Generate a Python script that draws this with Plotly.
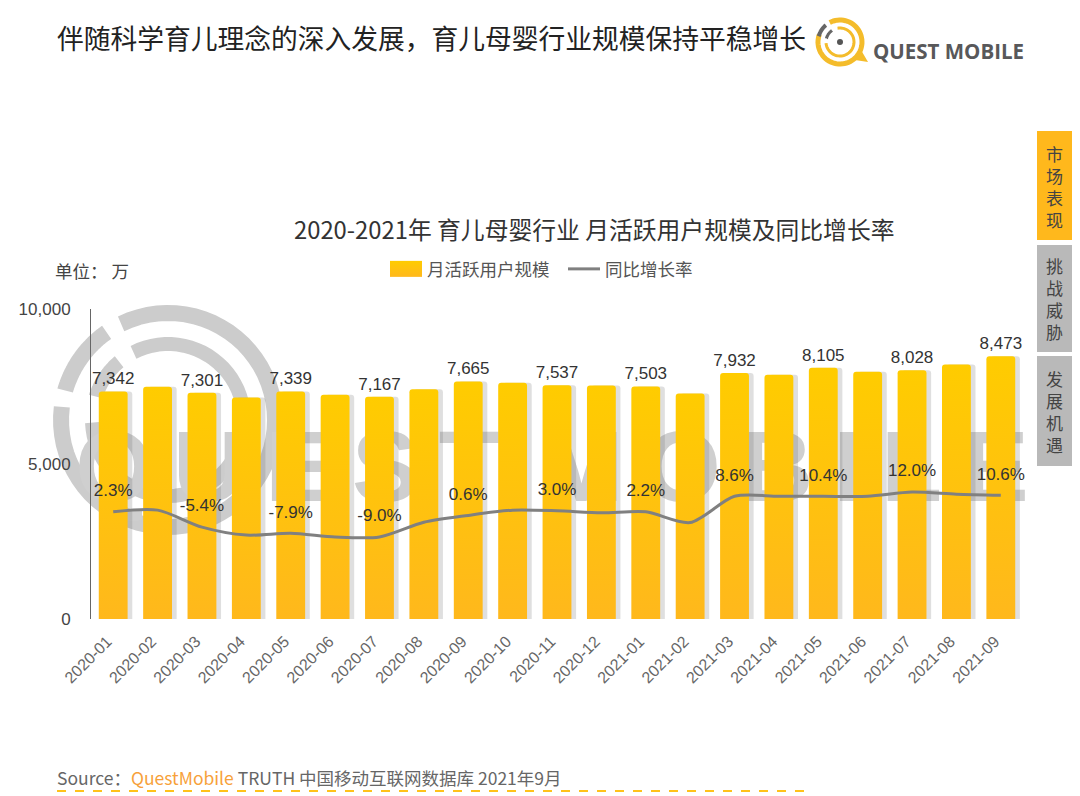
"""QuestMobile chart: monthly active users in the mother and baby sector"""
import math
import plotly.graph_objects as go

months = ['2020-01', '2020-02', '2020-03', '2020-04', '2020-05', '2020-06', '2020-07',
          '2020-08', '2020-09', '2020-10', '2020-11', '2020-12', '2021-01', '2021-02',
          '2021-03', '2021-04', '2021-05', '2021-06', '2021-07', '2021-08', '2021-09']
# months without a printed label are read from the height of the bar
mau = [7342, 7490, 7301, 7148, 7339, 7235, 7167, 7415, 7665, 7620, 7537, 7530, 7503, 7277,
       7932, 7878, 8105, 7974, 8028, 8209, 8473]
mau_labels = ['7,342', '', '7,301', '', '7,339', '', '7,167', '', '7,665', '', '7,537', '',
              '7,503', '', '7,932', '', '8,105', '', '8,028', '', '8,473']
# line height as drawn in the picture, it does not follow the printed labels exactly
growth = [2.3, 3.1, -5.0, -8.8, -7.9, -9.7, -9.7, -2.7, 0.6, 3.1, 2.8, 1.8, 2.3, -2.8,
          9.7, 9.7, 9.7, 9.7, 11.7, 10.7, 10.2]
growth_labels = ['2.3%', '', '-5.4%', '', '-7.9%', '', '-9.0%', '', '0.6%', '', '3.0%', '',
                 '2.2%', '', '8.6%', '', '10.4%', '', '12.0%', '', '10.6%']
tabs = ['市场表现', '挑战威胁', '发展机遇']

CJK = 'Noto Sans CJK SC'
LATIN = 'Liberation Sans'
LEFT, RIGHT, TOP, BOTTOM = 91, 1023, 309, 619
LABEL_LIFT = 9.5  # growth labels sit about 20px over the line, in y2 units


def px(x):
    return (x - LEFT) / (RIGHT - LEFT)


def py(y):
    return (BOTTOM - y) / (BOTTOM - TOP)


def arc(cx, cy, r, start, end, color, width):
    """A ring segment in page pixels, angles in degrees counted anticlockwise"""
    steps = 60
    pts = []
    for i in range(steps + 1):
        a = math.radians(start + (end - start) * i / steps)
        pts.append('{:.4f},{:.4f}'.format(px(cx + r * math.cos(a)), py(cy - r * math.sin(a))))
    return dict(type='path', path='M' + ' L'.join(pts), xref='paper', yref='paper',
                line=dict(color=color, width=width), layer='below')


def text(x, y, s, size, color='#333333', font=CJK, anchor='left', **kw):
    return dict(x=px(x), y=py(y), xref='paper', yref='paper', text=s, showarrow=False,
                xanchor=anchor, yanchor='middle', font=dict(family=font, size=size, color=color), **kw)


shapes = []
# watermark behind the bars
for seg in [(116, -187, 107, 16), (164, 125, 107, 16), (117, -178, 76, 14), (162, 130, 76, 14)]:
    shapes.append(arc(168, 420, seg[2], seg[0], seg[1], '#CCCCCC', seg[3]))
shapes.append(dict(type='rect', xref='paper', yref='paper', x0=px(54), x1=px(1050), y0=py(507), y1=py(407),
                   layer='below', line=dict(width=0), fillcolor='rgba(0,0,0,0)',
                   label=dict(text='\u2009'.join('QUEST') + '\u2009\u2009' + '\u2009'.join('MOBILE'),
                              textposition='middle center',
                              font=dict(family=LATIN, size=100, color='#CFCFCF', weight=700))))
# logo
shapes.append(arc(840, 42, 22, 118, -200, '#F4BC2B', 5))
shapes.append(arc(840, 42, 14, 100, -175, '#F4BC2B', 3))
shapes.append(arc(840, 42, 22, 165, 130, '#666666', 4))
shapes.append(arc(840, 42, 14, 165, 125, '#666666', 3))
shapes.append(dict(type='circle', xref='paper', yref='paper', x0=px(837), x1=px(843), y0=py(39), y1=py(45),
                   fillcolor='#555555', line=dict(width=0)))
shapes.append(dict(type='path', xref='paper', yref='paper', fillcolor='#F4BC2B', line=dict(width=0),
                   path='M{},{} L{},{} L{},{} Z'.format(px(855), py(60), px(868), py(62), px(861), py(50))))
# side tabs
for (y0, y1), color in zip([(131, 240), (245, 352), (356, 466)], ['#FFB81C', '#B9B9B9', '#B9B9B9']):
    shapes.append(dict(type='rect', xref='paper', yref='paper', x0=px(1037), x1=px(1072), y0=py(y0), y1=py(y1),
                       fillcolor=color, line=dict(width=0)))
# dashed rule under the source line
shapes.append(dict(type='line', xref='paper', yref='paper', x0=px(57), x1=px(812), y0=py(791), y1=py(791),
                   line=dict(color='#FFC21A', width=2, dash='dash')))

annotations = [
    text(55, 37, '伴随科学育儿理念的深入发展，育儿母婴行业规模保持平稳增长', 26.75, '#222222'),
    text(871, 51, '<b>QUEST MOBILE</b>', 20.5, '#58585A', 'Open Sans'),
    text(292, 228, '2020-2021年 育儿母婴行业 月活跃用户规模及同比增长率', 23.8, '#333333'),
    text(53, 270, '单位： 万', 17.5, '#444444'),
    text(55, 777, 'Source：<span style="color:#F7A13A">QuestMobile</span> TRUTH 中国移动互联网数据库 2021年9月',
         17.5, '#666666'),
]
for (y, s) in zip([186, 298, 411], tabs):
    annotations.append(text(1054.5, y, '<br>'.join(s), 17, '#444444', anchor='center'))

fig = go.Figure()
# grey copy of the bars, shifted right, gives the soft drop shadow
fig.add_trace(go.Bar(x=months, y=mau, width=0.65, offset=-0.22, showlegend=False, hoverinfo='skip',
                     marker=dict(color='rgba(110,110,110,0.22)', line=dict(width=0))))
fig.add_trace(go.Bar(x=months, y=mau, name='月活跃用户规模', width=0.65, offset=-0.325,
                     text=mau_labels, textposition='outside', cliponaxis=False, constraintext='none',
                     textangle=0, textfont=dict(family=LATIN, size=17, color='#333333'),
                     marker=dict(color='#FFC40C', line=dict(width=0))))
fig.add_trace(go.Scatter(x=months, y=growth, name='同比增长率', yaxis='y2', mode='lines',
                         line=dict(color='#808080', width=3, shape='spline', smoothing=0.8)))
fig.add_trace(go.Scatter(x=months, y=[g + LABEL_LIFT for g in growth], yaxis='y2', mode='text',
                         text=growth_labels, textposition='middle center', cliponaxis=False,
                         showlegend=False, hoverinfo='skip',
                         textfont=dict(family=LATIN, size=17, color='#333333')))

fig.update_layout(
    width=1080, height=796, paper_bgcolor='white', plot_bgcolor='rgba(0,0,0,0)',
    margin=dict(l=LEFT, r=1080 - RIGHT, t=TOP, b=796 - BOTTOM),
    barmode='overlay', barcornerradius=3, shapes=shapes, annotations=annotations,
    font=dict(family=CJK, color='#555555'),
    legend=dict(orientation='h', x=px(385), y=py(269), xanchor='left', yanchor='middle',
                font=dict(family=CJK, size=17.5, color='#555555'), itemwidth=32, traceorder='normal',
                entrywidth=131, entrywidthmode='pixels'),
    xaxis=dict(type='category', range=[-0.5, 20.5], tickangle=-45, showgrid=False, showline=False, ticks='',
               ticklabelstandoff=9, ticklabelshift=-6,
               tickfont=dict(family=LATIN, size=16, color='#666666')),
    yaxis=dict(range=[0, 10000], tickvals=[0, 5000, 10000], tickformat=',', showgrid=False, zeroline=False,
               showline=True, linecolor='#666666', linewidth=1, ticks='', ticklabelstandoff=16,
               tickfont=dict(family=LATIN, size=17, color='#444444')),
    yaxis2=dict(overlaying='y', range=[-48.8, 99], visible=False),
)

# plotly has no gradient for bars and only small legend swatches, so both are set on the drawn paths
page_fixes = """
document.body.style.margin = '0';
var svg = document.querySelector('.main-svg');
var ns = 'http://www.w3.org/2000/svg';
var g = document.createElementNS(ns, 'linearGradient');
g.id = 'barfill'; g.setAttribute('x1', 0); g.setAttribute('y1', 0); g.setAttribute('x2', 0); g.setAttribute('y2', 1);
[['0', '#FFCC00'], ['1', '#FFB81C']].forEach(function (c) {
  var s = document.createElementNS(ns, 'stop');
  s.setAttribute('offset', c[0]); s.setAttribute('stop-color', c[1]); g.appendChild(s);
});
svg.querySelector('defs').appendChild(g);
document.querySelectorAll('.barlayer .trace')[1].querySelectorAll('.point path').forEach(function (p) {
  p.style.fill = 'url(#barfill)';
});
document.querySelectorAll('.legend path.legendbar, .legend .legendpoints path').forEach(function (p) {
  p.setAttribute('d', 'M-16,8h32v-16h-32z');
  p.style.fill = 'url(#barfill)';
});
"""
fig.write_html("out.html", post_script=page_fixes, config=dict(displayModeBar=False))
